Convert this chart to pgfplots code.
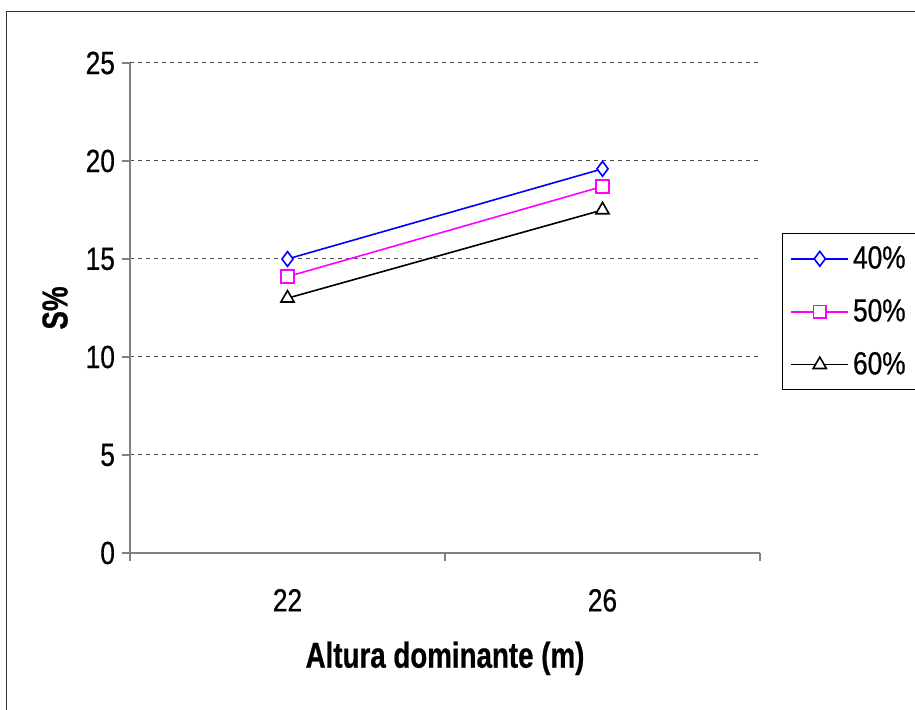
\documentclass[border=0pt]{standalone}
\usepackage{fontspec}
\setmainfont[FakeStretch=0.82, FakeBold=0.6,
    BoldFeatures={FakeStretch=0.77}]{Liberation Sans}
\usepackage{pgfplots}
\pgfplotsset{compat=1.18}
\definecolor{excelmagenta}{RGB}{255,0,255}
\definecolor{excelblue}{RGB}{0,0,255}
\begin{document}
\begin{tikzpicture}
\path[use as bounding box] (0,0) rectangle (457.5pt,355pt);
% outer chart frame (only left and top edges are inside the picture)
\draw[line width=0.6pt, black!80] (3.35pt,-2pt) -- (3.35pt,349.2pt) -- (462pt,349.2pt);
\begin{axis}[
    at={(65pt,78.5pt)}, anchor=south west,
    scale only axis, width=315pt, height=245pt,
    xmin=0, xmax=2, ymin=0, ymax=25,
    axis lines=left,
    axis line style={gray, line width=0.6pt, -},
    tick align=outside,
    major tick length=4pt,
    tick style={gray, line width=0.6pt},
    xtick={0,1,2}, xticklabels={},
    extra x ticks={0.5,1.5},
    extra x tick labels={22,26},
    extra x tick style={major tick length=0pt, grid=none,
        xticklabel style={yshift=-14.5pt}},
    ytick={0,5,...,25},
    ymajorgrids,
    grid style={black!70, dash pattern=on 2pt off 2pt, line width=0.5pt},
    /pgf/number format/assume math mode=true,
    ticklabel style={font=\fontsize{16}{19}\selectfont},
    xlabel={Altura dominante (m)},
    ylabel={S\%},
    label style={font=\fontsize{18}{21}\selectfont\bfseries},
    xlabel style={at={(axis description cs:0.5,-0.215)}, anchor=center},
    ylabel style={at={(axis description cs:-0.119,0.5)}, anchor=center},
    legend style={at={(axis description cs:1.0349,0.653)}, anchor=north west,
        draw=black, line width=0.5pt, font=\fontsize{16}{19}\selectfont,
        row sep=9.8pt, inner xsep=4pt, inner ysep=4.3pt,
        nodes={inner xsep=2pt}},
    legend cell align=left,
    legend image code/.code={
        \draw[mark repeat=2,mark phase=2,#1]
            plot coordinates {(0pt,0pt) (14.25pt,0pt) (28.5pt,0pt)};
    },
]
\addplot[excelblue, line width=0.8pt, mark=diamond*, mark size=3.7pt,
    mark options={fill=white, solid}] coordinates {(0.5,15.0) (1.5,19.6)};
\addplot[excelmagenta, line width=0.8pt, mark=square*, mark size=3.2pt,
    mark options={fill=white, solid}] coordinates {(0.5,14.1) (1.5,18.7)};
\addplot[black, line width=0.8pt, mark=triangle*, mark size=3.8pt,
    mark options={fill=white, solid}] coordinates {(0.5,13.0) (1.5,17.5)};
\legend{40\%,50\%,60\%}
\end{axis}
\end{tikzpicture}
\end{document}
